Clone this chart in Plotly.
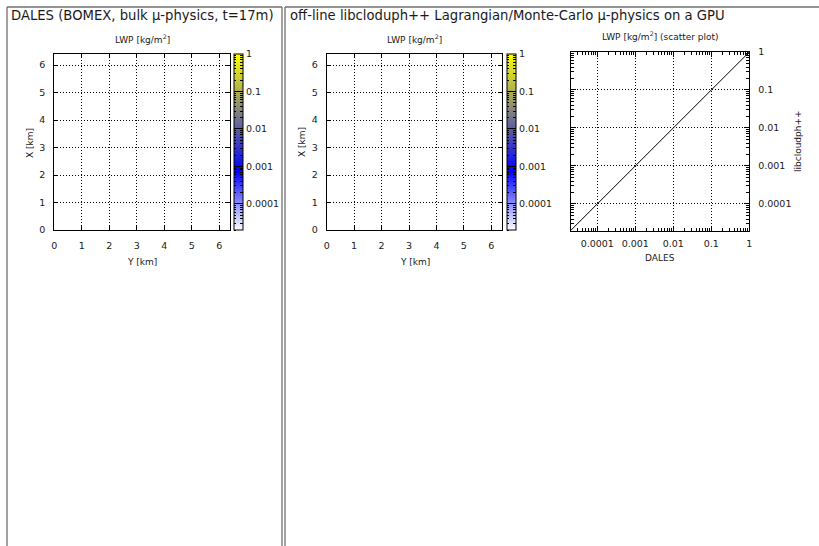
import math
import plotly.graph_objects as go

W, H = 819, 546

# ---- data -------------------------------------------------------------
# coarse cells of the 6.4 km x 6.4 km BOMEX domain (km); LWP is zero everywhere at t=17 min
cell_y_km = [1.6, 4.8]
cell_x_km = [1.6, 4.8]
lwp_dales = [[0.0, 0.0], [0.0, 0.0]]          # kg/m2
lwp_libcloud = [[0.0, 0.0], [0.0, 0.0]]       # kg/m2
# 1:1 reference line of the scatter plot (kg/m2)
one_to_one_x = [2e-5, 1.0]
one_to_one_y = [2e-5, 1.0]

km_range = [0, 6.4]
lwp_min, lwp_max = 2e-5, 1.0
decade_vals = [1e-4, 1e-3, 1e-2, 1e-1, 1.0]
decade_text = ["0.0001", "0.001", "0.01", "0.1", "1"]
minor_digits = [2, 3, 4, 5, 6, 7, 8, 9]

# ---- helpers -----------------------------------------------------------
def fx(px):
    return px / W

def fy(py):
    return 1 - py / H

def to_log_clipped(field):
    # zero LWP is below the colour range: it carries no colour (trace drawn transparent)
    return [[math.log10(max(v, lwp_min)) for v in row] for row in field]

FONT = "DejaVu Sans"
TXT = "#1a1a1a"
colorscale = [[0.0, "#ffffff"], [1 / 3, "#0000ff"], [2 / 3, "#808080"], [1.0, "#ffff00"]]
clear = [[0.0, "rgba(0,0,0,0)"], [1.0, "rgba(0,0,0,0)"]]
zmin, zmax = math.log10(lwp_min), math.log10(lwp_max)

minor_log = [math.log10(d * 10.0 ** e) for e in range(-5, 0) for d in minor_digits
             if zmin <= math.log10(d * 10.0 ** e) <= zmax]

def cbar(x_left):
    return dict(
        thickness=9, thicknessmode="pixels", len=176, lenmode="pixels",
        x=fx(x_left), xanchor="left", y=fy(54), yanchor="top",
        xpad=0, ypad=0, outlinewidth=1, outlinecolor="black",
        tickvals=[math.log10(v) for v in decade_vals], ticktext=decade_text,
        ticks="inside", ticklen=9, tickcolor="black", tickwidth=1,
        tickfont=dict(family=FONT, size=9.5, color=TXT),
    )

def minor_bar(x_left, thickness, side):
    return dict(
        thickness=thickness, thicknessmode="pixels", len=176, lenmode="pixels",
        x=fx(x_left), xanchor="left", y=fy(54), yanchor="top",
        xpad=0, ypad=0, outlinewidth=0, bgcolor="rgba(0,0,0,0)",
        tickvals=minor_log, ticktext=[" "] * len(minor_log),
        ticks=side, ticklen=2.5, tickcolor="black", tickwidth=1,
        tickfont=dict(family=FONT, size=1, color="rgba(0,0,0,0)"),
    )

fig = go.Figure()
panels = [(lwp_dales, "x", "y", 234.3), (lwp_libcloud, "x2", "y2", 506.7)]
for field, xa, ya, cx in panels:
    fig.add_trace(go.Heatmap(x=cell_y_km, y=cell_x_km, z=to_log_clipped(field),
                             zmin=zmin, zmax=zmax, opacity=0, showscale=True,
                             colorscale=colorscale, colorbar=cbar(cx), xaxis=xa, yaxis=ya,
                             hoverinfo="skip"))
    # minor colour-box ticks, right side (pointing in) and left side (pointing in)
    fig.add_trace(go.Heatmap(x=cell_y_km, y=cell_x_km, z=to_log_clipped(field),
                             zmin=zmin, zmax=zmax, opacity=0, showscale=True,
                             colorscale=clear, colorbar=minor_bar(cx, 9, "inside"),
                             xaxis=xa, yaxis=ya, hoverinfo="skip"))
    fig.add_trace(go.Heatmap(x=cell_y_km, y=cell_x_km, z=to_log_clipped(field),
                             zmin=zmin, zmax=zmax, opacity=0, showscale=True,
                             colorscale=clear, colorbar=minor_bar(cx - 0.01, 0.01, "outside"),
                             xaxis=xa, yaxis=ya, hoverinfo="skip"))

fig.add_trace(go.Scatter(x=one_to_one_x, y=one_to_one_y, mode="lines",
                         line=dict(color="black", width=1), xaxis="x3", yaxis="y3",
                         hoverinfo="skip", showlegend=False))

grid = dict(showgrid=True, gridcolor="black", gridwidth=1, griddash="1px,2px",
            showline=True, linecolor="black", linewidth=1, mirror="ticks",
            ticks="inside", tickcolor="black", ticklen=4, zeroline=False,
            tickfont=dict(family=FONT, size=9.5, color=TXT))

def km_axis(domain, anchor, **kw):
    d = dict(grid, domain=domain, anchor=anchor, range=km_range, tick0=0, dtick=1)
    d.update(kw)
    return d

def log_axis(domain, anchor, **kw):
    d = dict(grid, domain=domain, anchor=anchor, type="log",
             range=[zmin, zmax], tickvals=decade_vals, ticktext=decade_text, ticklen=5,
             minor=dict(ticks="inside", ticklen=3, tickcolor="black", dtick="D1", showgrid=False))
    d.update(kw)
    return d

fig.update_layout(
    width=W, height=H, autosize=False,
    margin=dict(l=0, r=0, t=0, b=0, pad=0, autoexpand=False),
    paper_bgcolor="white", plot_bgcolor="white", showlegend=False,
    font=dict(family=FONT, color=TXT),
    xaxis=km_axis([fx(54.3), fx(230.3)], "y", ticklabelstandoff=7),
    yaxis=km_axis([fy(230), fy(54)], "x", ticklabelstandoff=6),
    xaxis2=km_axis([fx(326.7), fx(502.3)], "y2", ticklabelstandoff=7),
    yaxis2=km_axis([fy(230), fy(54)], "x2", ticklabelstandoff=6),
    xaxis3=log_axis([fx(570.7), fx(749.3)], "y3", ticklabelstandoff=4),
    yaxis3=log_axis([fy(230.5), fy(52)], "x3", side="right", ticklabelstandoff=6),
)

ann = []
def text(x, y, s, size=9.5, anchor="center", angle=0):
    ann.append(dict(x=fx(x), y=fy(y), xref="paper", yref="paper", text=s, showarrow=False,
                    xanchor=anchor, yanchor="middle", textangle=angle,
                    font=dict(family=FONT, size=size, color=TXT)))

text(9, 15, "DALES (BOMEX, bulk µ-physics, t=17m)", size=13.2, anchor="left")
text(287.5, 15, "off-line libcloduph++ Lagrangian/Monte-Carlo µ-physics on a GPU", size=13.2, anchor="left")
text(142.3, 39, "LWP [kg/m<sup>2</sup>]", size=9)
text(414.6, 39, "LWP [kg/m<sup>2</sup>]", size=9)
text(660, 36, "LWP [kg/m<sup>2</sup>] (scatter plot)", size=9)
text(30, 143, "X [km]", size=9, angle=-90)
text(302, 142, "X [km]", size=9, angle=-90)
text(798, 141, "libcloudph++", size=9, angle=-90)
text(142.3, 262, "Y [km]", size=9)
text(414.6, 262, "Y [km]", size=9)
text(660, 258, "DALES", size=9)
fig.update_layout(annotations=ann)

frame = dict(color="#707070", width=1.3)
shapes = []
for x0, y0, x1, y1 in [(7, 7, 282, 7), (7, 7, 7, H), (282, 7, 282, H),
                       (285, 7, W, 7), (285, 7, 285, H)]:
    shapes.append(dict(type="line", xref="paper", yref="paper", x0=fx(x0), y0=fy(y0),
                       x1=fx(x1), y1=fy(y1), line=frame))
fig.update_layout(shapes=shapes)

post = ("document.documentElement.style.margin='0';"
        "document.body.style.margin='0';document.body.style.padding='0';"
        "document.body.style.overflow='hidden';"
        "var gd=document.getElementById('{plot_id}');"
        "gd.style.position='fixed';gd.style.left='0px';gd.style.top='0px';")
fig.write_html("out.html", config={"displayModeBar": False}, post_script=post)
